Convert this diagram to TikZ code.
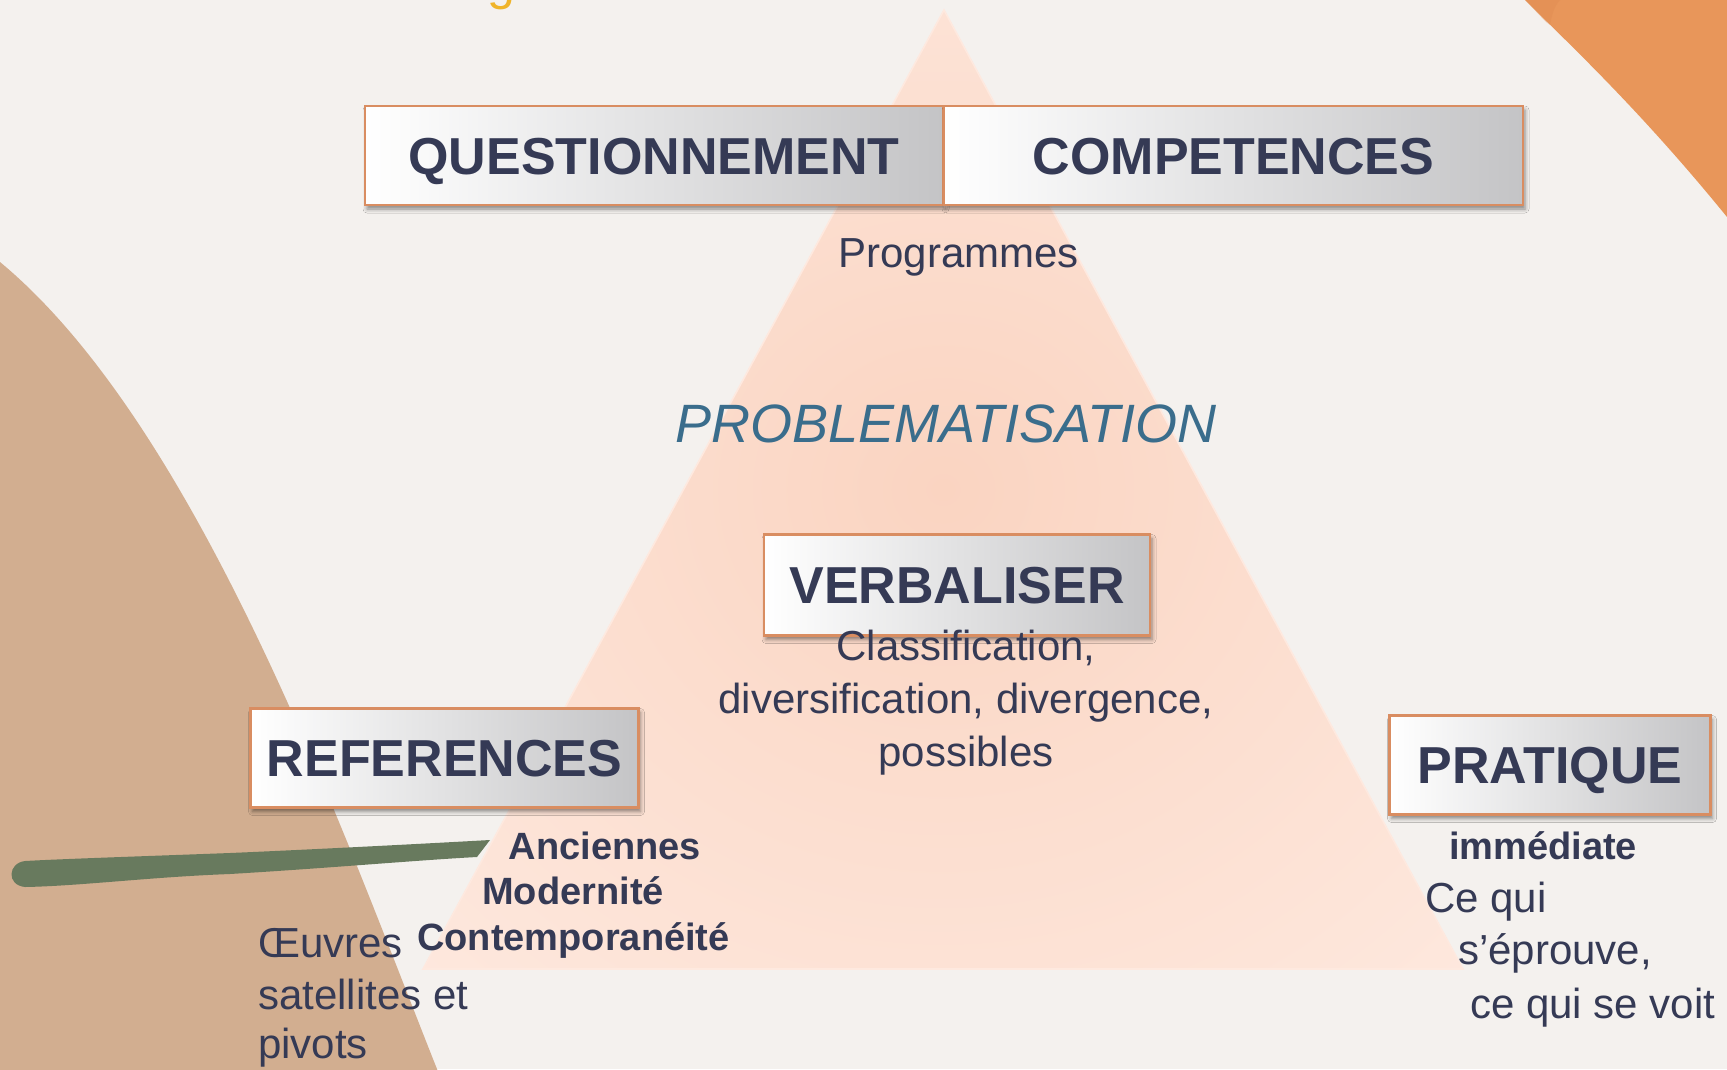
\documentclass[tikz,border=0pt]{standalone}
\usepackage{fontspec}
\setmainfont{Liberation Sans}
\usetikzlibrary{shadows.blur}
\definecolor{bgc}{HTML}{F4F1EE}
\definecolor{brownc}{HTML}{D2AE90}
\definecolor{orangec}{HTML}{E8965A}
\definecolor{orangedk}{HTML}{DD8A4F}
\definecolor{greenc}{HTML}{687A5E}
\definecolor{triedge}{HTML}{FEE9DF}
\definecolor{tricenter}{HTML}{FAD4C1}
\definecolor{navy}{HTML}{353A55}
\definecolor{problc}{HTML}{3A6D8C}
\definecolor{boxborder}{HTML}{D98D61}
\definecolor{boxgray}{HTML}{C4C4C6}
\definecolor{titlec}{HTML}{F0B429}
\pgfdeclareradialshading{trishade}{\pgfpointorigin}{color(0bp)=(tricenter); color(14bp)=(tricenter!60!triedge); color(38bp)=(triedge); color(50bp)=(triedge)}
\begin{document}
\begin{tikzpicture}[x=1pt,y=-1pt,
  lbox/.style={draw=boxborder, line width=2.8pt, left color=white, right color=boxgray,
    blur shadow={shadow xshift=2pt, shadow yshift=-4pt, shadow blur radius=4pt, shadow opacity=45},
    inner sep=0pt, text=navy, font=\fontsize{52}{60}\selectfont\bfseries, text height=37.5pt, text depth=0pt},
  reg/.style={inner sep=0pt, text=navy, font=\fontsize{42}{50}\selectfont},
  bld/.style={inner sep=0pt, text=navy, font=\fontsize{38}{45}\selectfont\bfseries}]
\useasboundingbox (0,0) rectangle (1727,1069);
\clip (0,0) rectangle (1727,1069);
\fill[bgc] (0,0) rectangle (1727,1069);
% brown shape left
\fill[brownc] (-5,1075) -- (-5,262) -- (0,262) .. controls (200,428) and (344.5,836.5) .. (437,1069) -- (440,1075) -- cycle;
% orange shape top right
\fill[orangec] (1525,0) .. controls (1570,45) and (1640,110) .. (1727,217) -- (1730,-3) -- (1523,-3) -- cycle;
\fill[orangedk, opacity=0.35] (1525,0) -- (1560,0) .. controls (1553,8) and (1552,16) .. (1550,25) -- (1546,22) -- cycle;
% triangle
\fill[triedge] (944,10) -- (423,969) -- (1463,969) -- cycle;
\fill[shading=trishade] (944,10) -- (423,969) -- (1463,969) -- cycle;
\draw[triedge, line width=1.6pt, line join=miter] (944,10) -- (423,969) -- (1463,969) -- cycle;
% green brush stroke
\fill[greenc] (490,840) .. controls (400,845) and (300,850) .. (230,853) .. controls (150,856) and (60,859) .. (25,861) .. controls (8,863) and (6,885) .. (25,887) .. controls (80,886) and (150,877) .. (230,874) .. controls (330,868) and (420,860) .. (477,857) -- cycle;
% partial title glyph
\node[inner sep=0pt, anchor=base west, text=titlec, font=\fontsize{50}{50}\selectfont] (title) at (487,-1) {g};
% boxes
\node[lbox, minimum width=578pt, minimum height=99pt] (quest) at (654,155.5) {QUESTIONNEMENT};
\node[lbox, minimum width=579pt, minimum height=99pt] (comp) at (1233.5,155.5) {COMPETENCES};
\node[lbox, minimum width=386pt, minimum height=101pt] (verb) at (957,585) {VERBALISER};
\node[lbox, minimum width=388pt, minimum height=99pt] (ref) at (444.5,758) {REFERENCES};
\node[lbox, minimum width=321pt, minimum height=99pt] (prat) at (1550,765) {PRATIQUE};
% texts
\node[reg, anchor=base] (prog) at (958.5,267) {Programmes};
\node[inner sep=0pt, anchor=base, text=problc, font=\fontsize{54}{60}\selectfont\itshape] (probl) at (946,442) {PROBLEMATISATION};
\node[reg, anchor=base] (cl1) at (966,660) {Classification,};
\node[reg, anchor=base] (cl2) at (966,713) {diversification, divergence,};
\node[reg, anchor=base] (cl3) at (966,766) {possibles};
\node[bld, anchor=base] (anc) at (605,859) {Anciennes};
\node[bld, anchor=base] (mod) at (573,904) {Modernité};
\node[bld, anchor=base] (cont) at (573.5,950) {Contemporanéité};
\node[reg, anchor=base west] (oe1) at (258,957) {Œuvres};
\node[reg, anchor=base west] (oe2) at (258,1009) {satellites et};
\node[reg, anchor=base west] (oe3) at (258,1058) {pivots};
\node[bld, anchor=base] (imm) at (1543,859) {immédiate};
\node[reg, anchor=base west] (pr1) at (1425,912) {Ce qui};
\node[reg, anchor=base west] (pr2) at (1458,964) {s’éprouve,};
\node[reg, anchor=base west] (pr3) at (1470,1018) {ce qui se voit};
\end{tikzpicture}
\end{document}
